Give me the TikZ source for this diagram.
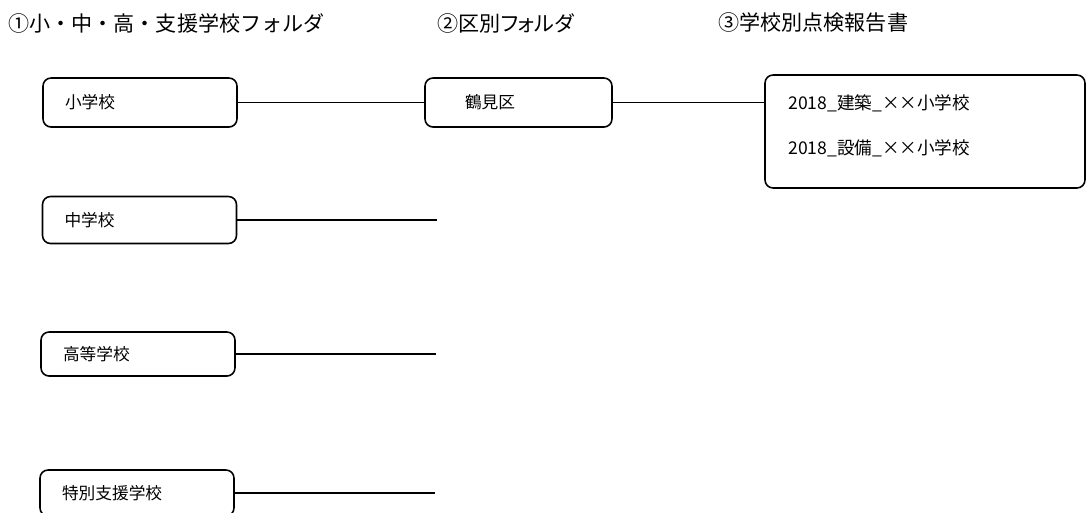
\documentclass[tikz,border=0pt]{standalone}
\usepackage{fontspec}
\setmainfont{Noto Sans CJK JP}
\newfontfamily\headfont{Noto Sans CJK JP}[RawFeature=+palt]
\usepackage{tikz}
\usetikzlibrary{positioning,calc}

\tikzset{
  folder/.style={draw,line width=0.9pt,rounded corners=0.16cm,align=left,
                 minimum width=3.88cm,minimum height=0.94cm,
                 inner xsep=0.44cm,text width=3.0cm,font=\fontsize{9.5}{11}\selectfont},
  heading/.style={anchor=west,inner sep=0pt,font=\headfont\fontsize{12}{14}\selectfont},
  link/.style={line width=0.7pt}
}

\begin{document}
\begin{tikzpicture}[x=0.02cm,y=-0.02cm]
  \useasboundingbox (0,0) rectangle (1086,512);

  \node[heading,font=\fontsize{12}{14}\selectfont] (headA) at (8,23) {①小・中・高・支援学校フォルダ};
  \node[heading] (headB) at (437,23) {②区別フォルダ};
  \node[heading] (headC) at (718,23) {③学校別点検報告書};

  \node[folder,minimum height=0.98cm] (sho) at (140,102.5) {小学校};
  \node[folder] (chu) at (139.5,220) {中学校};
  \node[folder,minimum height=0.88cm] (kou) at (138,354) {高等学校};
  \node[folder,minimum height=0.92cm] (toku) at (137,493) {特別支援学校};

  \node[folder,minimum width=3.74cm,minimum height=0.98cm,inner xsep=0.8cm,
        text width=2.14cm] (tsurumi) at (518.5,102.5) {鶴見区};
  \node[folder,minimum width=6.4cm,minimum height=2.26cm,text width=5.52cm]
        (report) at (925,131.5) {};
  \node[anchor=west,inner sep=0pt,font=\fontsize{10}{12}\selectfont]
        (repA) at (788,103) {2018\_建築\_××小学校};
  \node[anchor=west,inner sep=0pt,font=\fontsize{10}{12}\selectfont]
        (repB) at (788,148) {2018\_設備\_××小学校};

  \coordinate (chuEnd) at (437,220);
  \coordinate (kouEnd) at (436,354);
  \coordinate (tokuEnd) at (435,493);

  \draw[link] (sho) -- (tsurumi);
  \draw[link] (tsurumi.east) -- (tsurumi.east -| report.west);
  \draw[link] (chu) -- (chuEnd);
  \draw[link] (kou) -- (kouEnd);
  \draw[link] (toku) -- (tokuEnd);
\end{tikzpicture}
\end{document}
